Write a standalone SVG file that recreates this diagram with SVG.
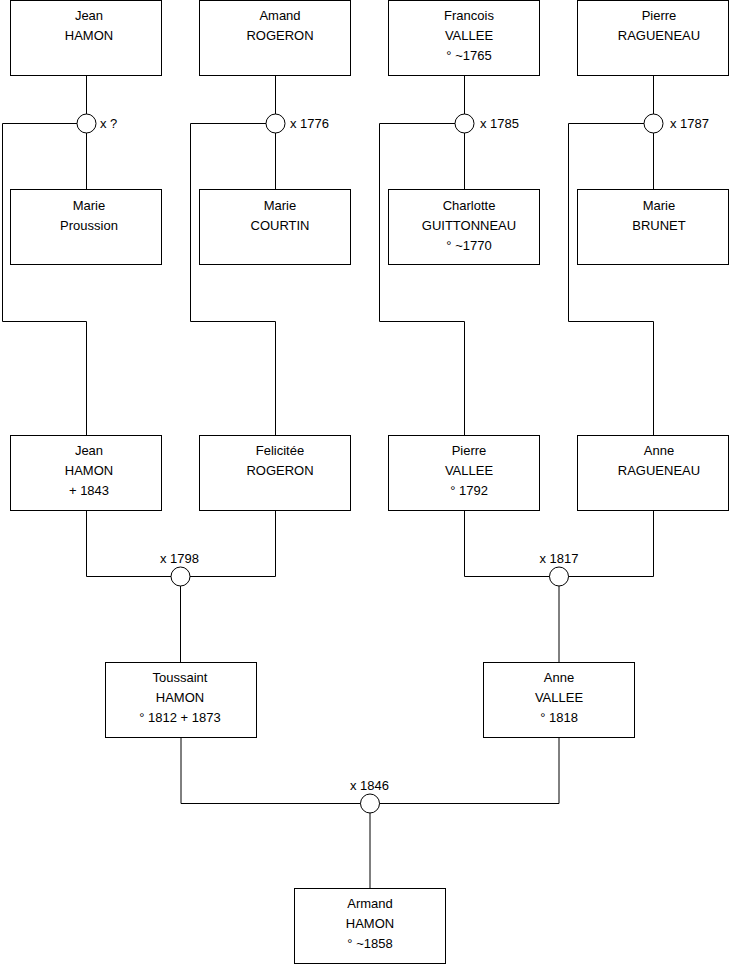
<svg xmlns="http://www.w3.org/2000/svg" width="740" height="975" viewBox="0 0 740 975">
<style>
.box{fill:#fff;stroke:#000;stroke-width:1}
.ln{fill:none;stroke:#000;stroke-width:1}
.mar{fill:#fff;stroke:#000;stroke-width:1}
text{font-family:"Liberation Sans",Arial,sans-serif;font-size:13px;fill:#000}
.c{text-anchor:middle}
</style>
<rect width="740" height="975" fill="#fff"/>
<g id="connectors">
<!-- generation 1 marriages -->
<path class="ln" d="M86.5 75.5V189.5M77 123.5H2.5V321.5H86.5V435.5"/>
<path class="ln" d="M275.5 75.5V189.5M266 123.5H190.5V321.5H275.5V435.5"/>
<path class="ln" d="M464.5 75.5V189.5M455 123.5H379.5V321.5H464.5V435.5"/>
<path class="ln" d="M653.5 75.5V189.5M644 123.5H568.5V321.5H653.5V435.5"/>
<!-- generation 2 marriages -->
<path class="ln" d="M86.5 510.5V576.5H275.5V510.5M180.5 576.5V662.5"/>
<path class="ln" d="M464.5 510.5V576.5H653.5V510.5M559 576.5V662.5"/>
<!-- generation 3 marriage -->
<path class="ln" d="M181 737.5V803.5H559V737.5M370 803.5V888.5"/>
</g>
<g id="m1"><circle class="mar" cx="86.5" cy="123.5" r="9.5"/><text x="100" y="128">x ?</text></g>
<g id="m2"><circle class="mar" cx="275.5" cy="123.5" r="9.5"/><text x="290" y="128">x 1776</text></g>
<g id="m3"><circle class="mar" cx="464.5" cy="123.5" r="9.5"/><text x="480" y="128">x 1785</text></g>
<g id="m4"><circle class="mar" cx="653.5" cy="123.5" r="9.5"/><text x="670" y="128">x 1787</text></g>
<g id="m5"><circle class="mar" cx="180.5" cy="576.5" r="9.5"/><text class="c" x="179.5" y="563">x 1798</text></g>
<g id="m6"><circle class="mar" cx="559" cy="576.5" r="9.5"/><text class="c" x="559" y="563">x 1817</text></g>
<g id="m7"><circle class="mar" cx="370" cy="803.5" r="9.5"/><text class="c" x="369.5" y="790">x 1846</text></g>

<g id="jean_hamon_1"><rect class="box" x="10.5" y="0.5" width="151" height="75"/><text class="c" x="89" y="20">Jean</text><text class="c" x="89" y="40">HAMON</text></g>
<g id="amand_rogeron"><rect class="box" x="199.5" y="0.5" width="151" height="75"/><text class="c" x="280" y="20">Amand</text><text class="c" x="280" y="40">ROGERON</text></g>
<g id="francois_vallee"><rect class="box" x="388.5" y="0.5" width="151" height="75"/><text class="c" x="469" y="20">Francois</text><text class="c" x="469" y="40">VALLEE</text><text class="c" x="469" y="60">° ~1765</text></g>
<g id="pierre_ragueneau"><rect class="box" x="577.5" y="0.5" width="151" height="75"/><text class="c" x="659" y="20">Pierre</text><text class="c" x="659" y="40">RAGUENEAU</text></g>

<g id="marie_proussion"><rect class="box" x="10.5" y="189.5" width="151" height="75"/><text class="c" x="89" y="210">Marie</text><text class="c" x="89" y="230">Proussion</text></g>
<g id="marie_courtin"><rect class="box" x="199.5" y="189.5" width="151" height="75"/><text class="c" x="280" y="210">Marie</text><text class="c" x="280" y="230">COURTIN</text></g>
<g id="charlotte_guittonneau"><rect class="box" x="388.5" y="189.5" width="151" height="75"/><text class="c" x="469" y="210">Charlotte</text><text class="c" x="469" y="230">GUITTONNEAU</text><text class="c" x="469" y="250">° ~1770</text></g>
<g id="marie_brunet"><rect class="box" x="577.5" y="189.5" width="151" height="75"/><text class="c" x="659" y="210">Marie</text><text class="c" x="659" y="230">BRUNET</text></g>

<g id="jean_hamon_2"><rect class="box" x="10.5" y="435.5" width="151" height="75"/><text class="c" x="89" y="455">Jean</text><text class="c" x="89" y="475">HAMON</text><text class="c" x="89" y="495">+ 1843</text></g>
<g id="felicitee_rogeron"><rect class="box" x="199.5" y="435.5" width="151" height="75"/><text class="c" x="280" y="455">Felicitée</text><text class="c" x="280" y="475">ROGERON</text></g>
<g id="pierre_vallee"><rect class="box" x="388.5" y="435.5" width="151" height="75"/><text class="c" x="469" y="455">Pierre</text><text class="c" x="469" y="475">VALLEE</text><text class="c" x="469" y="495">° 1792</text></g>
<g id="anne_ragueneau"><rect class="box" x="577.5" y="435.5" width="151" height="75"/><text class="c" x="659" y="455">Anne</text><text class="c" x="659" y="475">RAGUENEAU</text></g>

<g id="toussaint_hamon"><rect class="box" x="105.5" y="662.5" width="151" height="75"/><text class="c" x="180" y="682">Toussaint</text><text class="c" x="180" y="702">HAMON</text><text class="c" x="180" y="722">° 1812 + 1873</text></g>
<g id="anne_vallee"><rect class="box" x="483.5" y="662.5" width="151" height="75"/><text class="c" x="559" y="682">Anne</text><text class="c" x="559" y="702">VALLEE</text><text class="c" x="559" y="722">° 1818</text></g>

<g id="armand_hamon"><rect class="box" x="294.5" y="888.5" width="151" height="75"/><text class="c" x="370" y="908">Armand</text><text class="c" x="370" y="928">HAMON</text><text class="c" x="370" y="948">° ~1858</text></g>
</svg>
